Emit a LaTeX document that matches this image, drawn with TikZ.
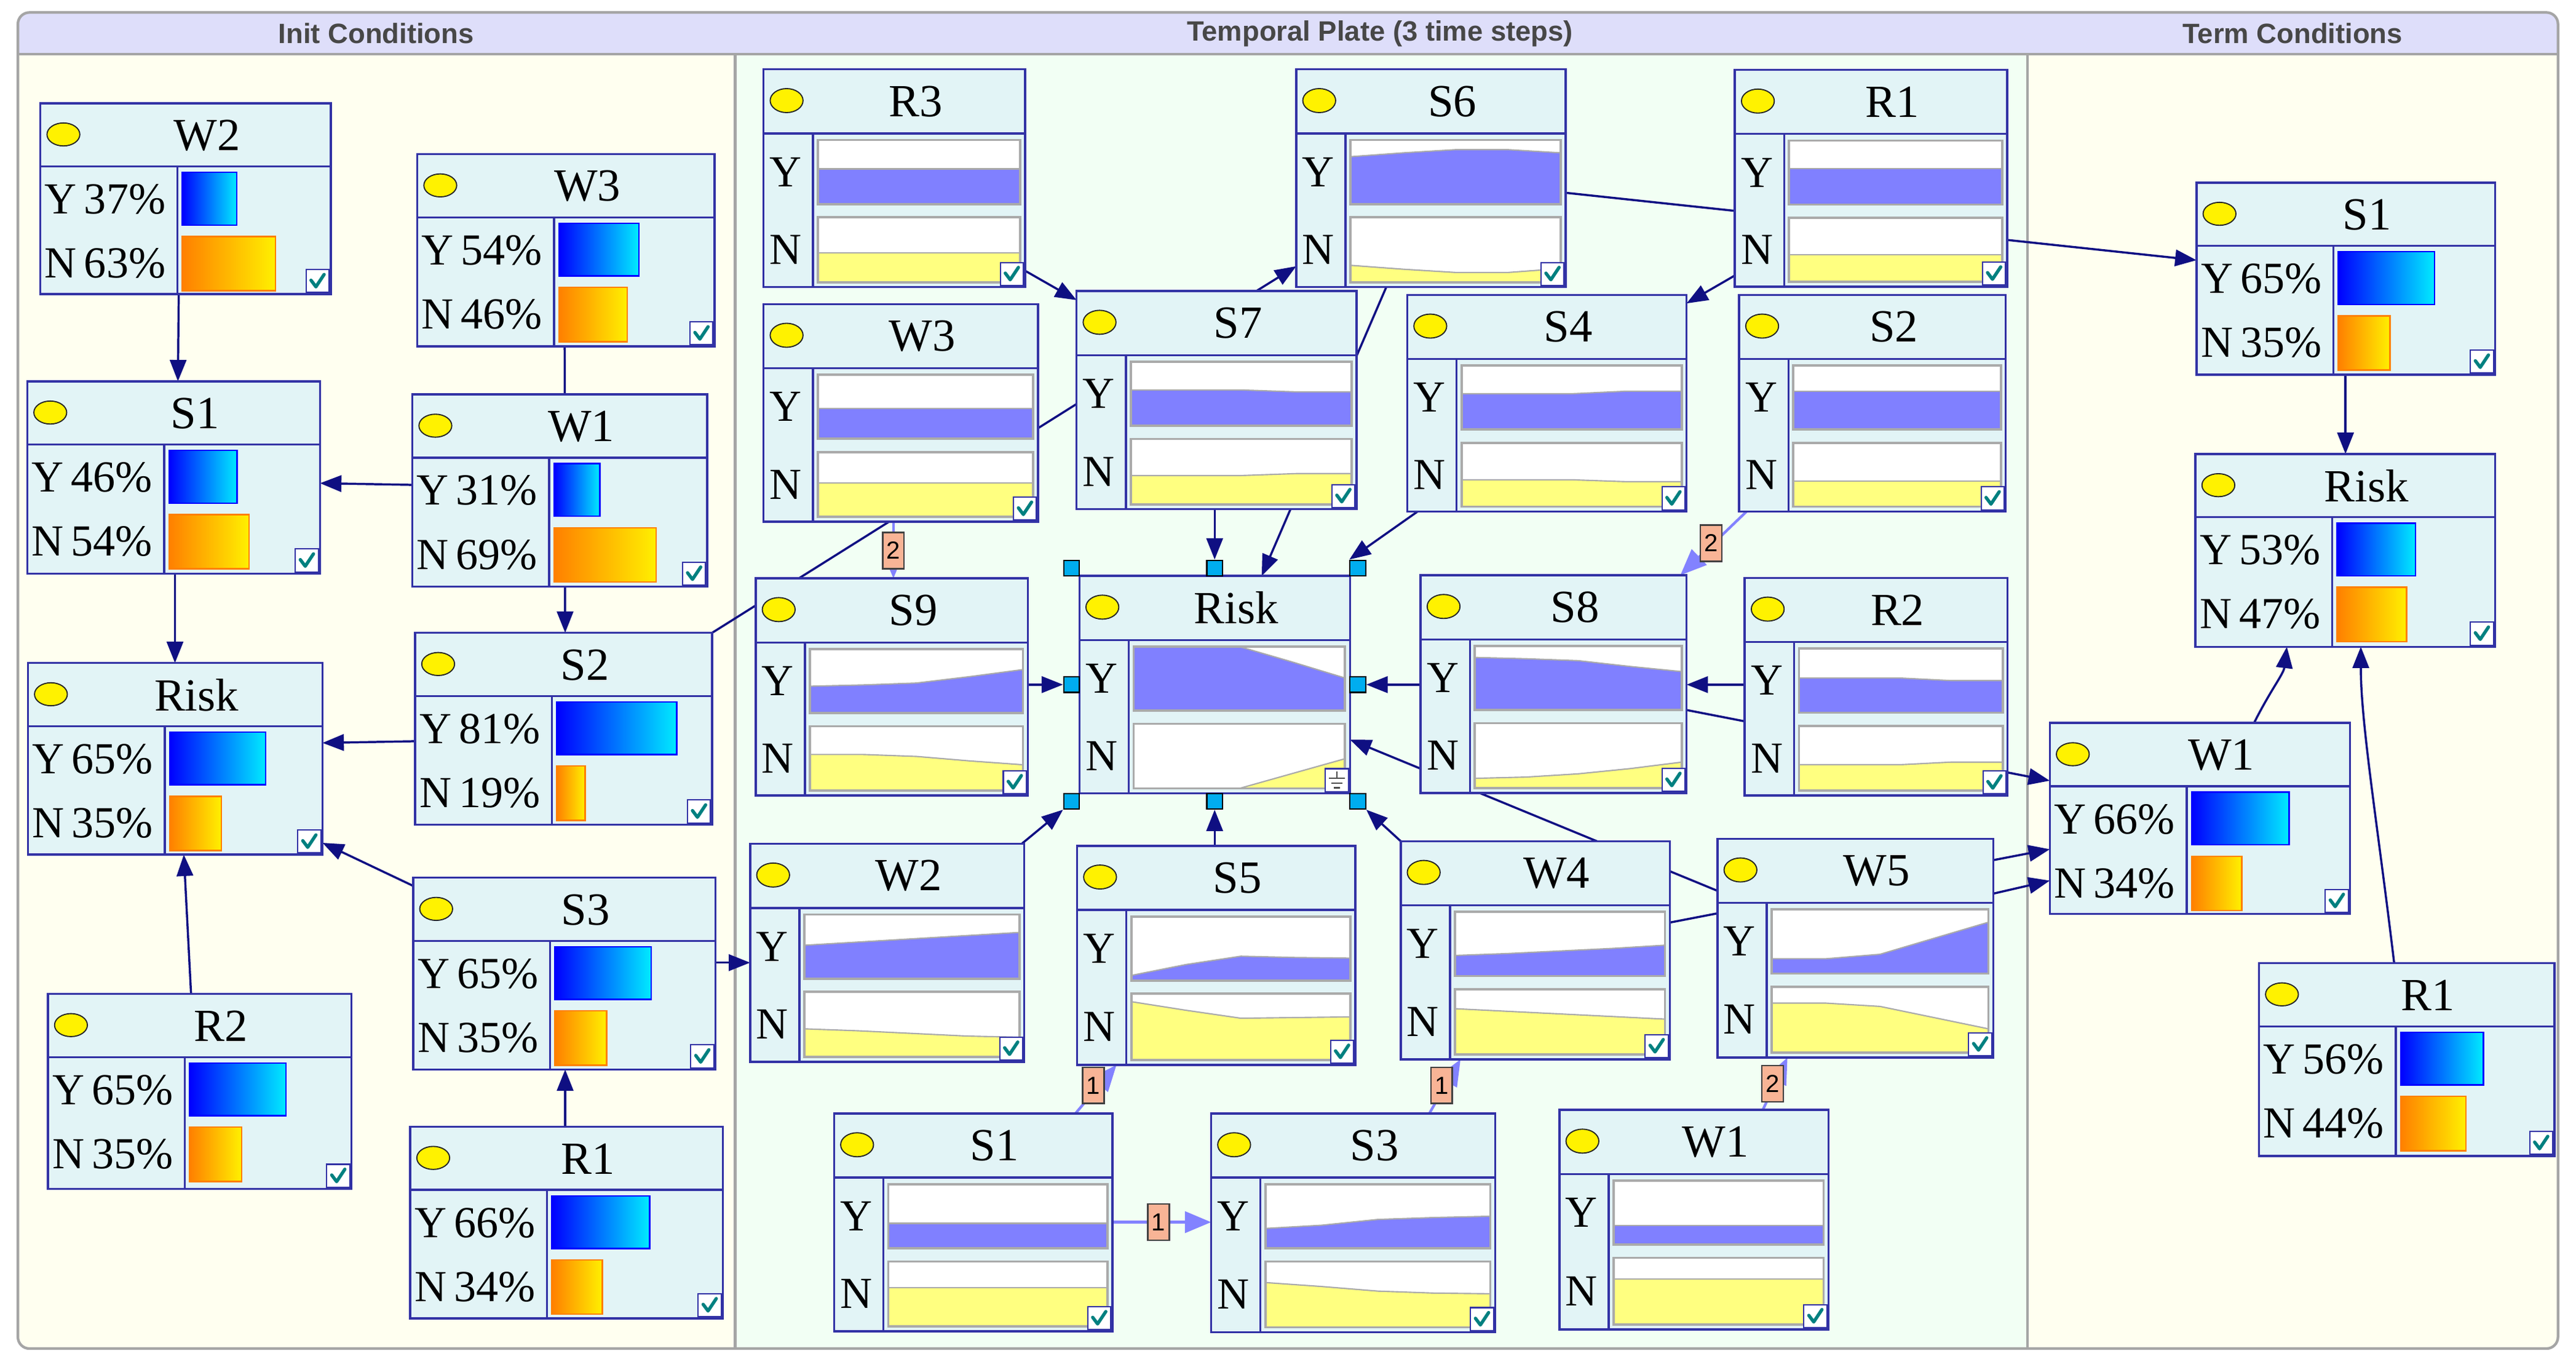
\documentclass[tikz,border=0pt]{standalone}
\usepackage{fontspec}
\setmainfont{Liberation Serif}
\newfontfamily\hsans{Liberation Sans}
\usetikzlibrary{arrows.meta}
\pgfdeclarelayer{bg}\pgfdeclarelayer{edges}
\pgfsetlayers{bg,edges,main}
\definecolor{nodefill}{RGB}{226,244,246}
\definecolor{nodeline}{RGB}{50,50,165}
\definecolor{edgecol}{RGB}{15,15,130}
\definecolor{tarc}{RGB}{130,130,255}
\definecolor{hdrcol}{RGB}{222,222,250}
\definecolor{initbg}{RGB}{255,255,240}
\definecolor{tempbg}{RGB}{242,255,244}
\definecolor{framec}{RGB}{165,165,165}
\definecolor{purp}{RGB}{128,128,255}
\definecolor{yel}{RGB}{255,255,128}
\definecolor{chartgray}{RGB}{170,170,170}
\definecolor{chkcol}{RGB}{0,128,128}
\definecolor{lblfill}{RGB}{248,180,150}
\definecolor{blL}{RGB}{0,0,255}
\definecolor{blR}{RGB}{0,235,255}
\definecolor{orL}{RGB}{255,128,0}
\definecolor{orR}{RGB}{255,240,0}
\tikzset{
 nbox/.style={rectangle, draw=nodeline, fill=nodefill, line width=1.3pt, inner sep=0pt, outer sep=0pt},
 nline/.style={draw=nodeline, line width=1.3pt},
 dot/.style={fill=yellow, draw=black!85, line width=0.7pt},
 ttl/.style={font=\fontsize{28}{30}\selectfont, inner sep=0pt},
 pct/.style={font=\fontsize{27}{29}\selectfont, inner sep=0pt, anchor=west},
 yn/.style={font=\fontsize{27}{29}\selectfont, inner sep=0pt},
 ybar/.style={draw=blL, line width=0.9pt, left color=blL, right color=blR},
 nbar/.style={draw=orL, line width=0.9pt, left color=orL, right color=orR},
 chartb/.style={draw=chartgray, line width=1.4pt},
 hdl/.style={rectangle, draw=black, fill=cyan, minimum size=9.5pt, inner sep=0pt, line width=0.8pt},
 lnk/.style={draw=edgecol, line width=1.3pt, -{Triangle[length=13pt,width=10pt]}},
 plainlnk/.style={draw=edgecol, line width=1.3pt},
 tlnk/.style={draw=tarc, line width=1.6pt, -{Triangle[length=16pt,width=13pt]}},
 lbl/.style={rectangle, draw=black!75, fill=lblfill, minimum width=13pt, minimum height=22pt, inner sep=0pt, line width=0.9pt, font=\hsans\fontsize{15}{16}\selectfont},
 hdrtxt/.style={text=black!72, inner sep=0pt, font=\hsans\bfseries\fontsize{17}{19}\selectfont}
}
\def\getY#1,#2,#3,#4,#5\endget{\def\pYa{#1}\def\pYb{#2}\def\pYc{#3}\def\pYd{#4}\def\pYe{#5}}
\def\getN#1,#2,#3,#4,#5\endget{\def\pNa{#1}\def\pNb{#2}\def\pNc{#3}\def\pNd{#4}\def\pNe{#5}}
\newcommand\chk[2]{%
 \draw[nline, fill=white, line width=0.8pt] ({#1-15},{#2-15}) rectangle ({#1-1},{#2-1});
 \draw[chkcol, line width=2pt, line cap=round, line join=round] ({#1-12},{#2-8.5}) -- ({#1-9},{#2-4.5}) -- ({#1-4},{#2-12});
}
\newcommand\statnode[8]{%
 \pgfmathsetmacro\zW{#4-#2}\pgfmathsetmacro\zH{#5-#3}%
 \pgfmathsetmacro\zX{(#2+#4)/2}\pgfmathsetmacro\zY{(#3+#5)/2}%
 \pgfmathsetmacro\zHB{#3+38.5}\pgfmathsetmacro\zDV{#2+83.3}%
 \node[nbox, minimum width=\zW pt, minimum height=\zH pt] (#1) at (\zX,\zY) {};
 \draw[nline] (#2,\zHB) -- (#4,\zHB);
 \draw[nline] (\zDV,\zHB) -- (\zDV,#5);
 \draw[dot] (#2+14,#3+19) ellipse [x radius=10pt, y radius=7pt];
 \node[ttl] at (\zX+13,#3+19.5) {#6};
 \draw[ybar] (\zDV+3,\zHB+3.6) rectangle ++({#7*0.9},32);
 \draw[nbar] (\zDV+3,\zHB+42.6) rectangle ++({#8*0.9},33);
 \node[pct] at (#2+2.5,\zHB+20) {Y\,#7\%};
 \node[pct] at (#2+2.5,\zHB+59) {N\,#8\%};
 \chk{#4}{#5}
}
\newcommand\tempnode[8]{%
 \getY#7\endget \getN#8\endget
 \pgfmathsetmacro\zW{#4-#2}\pgfmathsetmacro\zH{#5-#3}%
 \pgfmathsetmacro\zX{(#2+#4)/2}\pgfmathsetmacro\zY{(#3+#5)/2}%
 \pgfmathsetmacro\zHB{#3+39}\pgfmathsetmacro\zDV{#2+30}%
 \pgfmathsetmacro\zCa{#2+33}\pgfmathsetmacro\zCe{#4-3}\pgfmathsetmacro\zCw{(\zCe-\zCa)/4}%
 \pgfmathsetmacro\zYt{\zHB+4}\pgfmathsetmacro\zYb{\zHB+43}%
 \pgfmathsetmacro\zNt{\zHB+51}\pgfmathsetmacro\zNb{#5-3}\pgfmathsetmacro\zNh{\zNb-\zNt}%
 \node[nbox, minimum width=\zW pt, minimum height=\zH pt] (#1) at (\zX,\zY) {};
 \draw[nline] (#2,\zHB) -- (#4,\zHB);
 \draw[nline] (\zDV,\zHB) -- (\zDV,#5);
 \draw[dot] (#2+14,#3+19) ellipse [x radius=10pt, y radius=7.3pt];
 \node[ttl] at (\zX+13,#3+19.5) {#6};
 \node[yn] at (#2+13.5,{(\zYt+\zYb)/2}) {Y};
 \node[yn] at (#2+13.5,{(\zNt+\zNb)/2}) {N};
 \fill[white] (\zCa,\zYt) rectangle (\zCe,\zYb);
 \fill[purp] (\zCa,\zYb) -- (\zCa,{\zYb-\pYa*39}) -- ({\zCa+\zCw},{\zYb-\pYb*39}) -- ({\zCa+2*\zCw},{\zYb-\pYc*39}) -- ({\zCa+3*\zCw},{\zYb-\pYd*39}) -- (\zCe,{\zYb-\pYe*39}) -- (\zCe,\zYb) -- cycle;
 \draw[chartgray, line width=0.8pt] (\zCa,{\zYb-\pYa*39}) -- ({\zCa+\zCw},{\zYb-\pYb*39}) -- ({\zCa+2*\zCw},{\zYb-\pYc*39}) -- ({\zCa+3*\zCw},{\zYb-\pYd*39}) -- (\zCe,{\zYb-\pYe*39});
 \draw[chartb] (\zCa,\zYt) rectangle (\zCe,\zYb);
 \fill[white] (\zCa,\zNt) rectangle (\zCe,\zNb);
 \fill[yel] (\zCa,\zNb) -- (\zCa,{\zNb-\pNa*\zNh}) -- ({\zCa+\zCw},{\zNb-\pNb*\zNh}) -- ({\zCa+2*\zCw},{\zNb-\pNc*\zNh}) -- ({\zCa+3*\zCw},{\zNb-\pNd*\zNh}) -- (\zCe,{\zNb-\pNe*\zNh}) -- (\zCe,\zNb) -- cycle;
 \draw[chartgray, line width=0.8pt] (\zCa,{\zNb-\pNa*\zNh}) -- ({\zCa+\zCw},{\zNb-\pNb*\zNh}) -- ({\zCa+2*\zCw},{\zNb-\pNc*\zNh}) -- ({\zCa+3*\zCw},{\zNb-\pNd*\zNh}) -- (\zCe,{\zNb-\pNe*\zNh});
 \draw[chartb] (\zCa,\zNt) rectangle (\zCe,\zNb);
 \chk{#4}{#5}
}
\begin{document}
\begin{tikzpicture}[x=1pt,y=-1pt]
\useasboundingbox (0,0) rectangle (1568,831.6);
\begin{pgfonlayer}{bg}
\fill[white] (0,0) rectangle (1568,831.6);
\begin{scope}
\clip[rounded corners=7pt] (10.9,7.6) rectangle (1557,820.5);
\fill[initbg] (10.9,7.6) rectangle (447.5,820.5);
\fill[tempbg] (447.5,7.6) rectangle (1234,820.5);
\fill[initbg] (1234,7.6) rectangle (1557,820.5);
\fill[hdrcol] (10.9,7.6) rectangle (1557,33);
\end{scope}
\draw[framec, line width=1.6pt] (10.9,33) -- (1557,33);
\draw[framec, line width=1.6pt] (447.5,33) -- (447.5,820.5);
\draw[framec, line width=1.6pt] (1234,33) -- (1234,820.5);
\draw[framec, line width=1.6pt, rounded corners=7pt] (10.9,7.6) rectangle (1557,820.5);
\end{pgfonlayer}
\node[hdrtxt] (hInit) at (229,20.5) {Init Conditions};
\node[hdrtxt] (hTemp) at (840,20.5) {Temporal Plate (3 time steps)};
\node[hdrtxt] (hTerm) at (1395.5,20.5) {Term Conditions};
% init
\statnode{iW2}{24.6}{62.8}{201.3}{179}{W2}{37}{63}
\statnode{iW3}{254}{93.8}{435}{210.8}{W3}{54}{46}
\statnode{iS1}{16.6}{232}{194.8}{349}{S1}{46}{54}
\statnode{iW1}{251}{240}{430.5}{357}{W1}{31}{69}
\statnode{iS2}{252.7}{385}{433.5}{501.7}{S2}{81}{19}
\statnode{iRisk}{17}{403.4}{196.3}{520}{Risk}{65}{35}
\statnode{iS3}{251.5}{534}{435.5}{650.7}{S3}{65}{35}
\statnode{iR2}{29.2}{604.7}{213.9}{723.4}{R2}{65}{35}
\statnode{iR1}{249.7}{685.5}{440}{802.1}{R1}{66}{34}
% term
\statnode{tS1}{1337}{111.1}{1518.7}{228}{S1}{65}{35}
\statnode{tRisk}{1336.3}{276.2}{1518.7}{393.5}{Risk}{53}{47}
\statnode{tW1}{1247.7}{439.9}{1430.4}{556.1}{W1}{66}{34}
\statnode{tR1}{1375}{586}{1554.8}{703.4}{R1}{56}{44}
% temporal
\tempnode{R3}{464.8}{42.2}{623.9}{174.7}{R3}{.55,.55,.55,.55,.55}{.45,.45,.45,.45,.45}
\tempnode{S6}{789}{42.2}{953}{174.7}{S6}{.74,.8,.85,.85,.8}{.26,.2,.15,.15,.21}
\tempnode{R1p}{1056}{42.5}{1221.8}{174.4}{R1}{.56,.56,.56,.56,.56}{.42,.42,.42,.42,.42}
\tempnode{W3p}{464.8}{185}{631.9}{317.5}{W3}{.47,.47,.47,.47,.47}{.52,.52,.52,.52,.52}
\tempnode{S7}{655.3}{177.1}{825.7}{309.8}{S7}{.56,.56,.56,.53,.53}{.44,.44,.44,.47,.47}
\tempnode{S4}{856.6}{179.4}{1026.6}{311.2}{S4}{.56,.56,.56,.6,.6}{.42,.42,.42,.39,.39}
\tempnode{S2p}{1058.6}{179.4}{1220.9}{311.2}{S2}{.6,.6,.6,.6,.6}{.4,.4,.4,.4,.4}
\tempnode{S9}{460}{351.9}{625.7}{483.9}{S9}{.42,.44,.47,.57,.68}{.56,.56,.53,.46,.4}
\tempnode{Risk}{657}{350.4}{821.7}{482.7}{Risk}{1,1,1,.76,.51}{0,0,0,.23,.46}
\tempnode{S8}{864.7}{350}{1026.6}{482.5}{S8}{.82,.8,.77,.68,.6}{.15,.17,.22,.3,.4}
\tempnode{R2p}{1062}{351.6}{1222}{484}{R2}{.54,.54,.54,.5,.5}{.4,.4,.4,.44,.44}
\tempnode{W2p}{456.6}{513.4}{623.5}{646}{W2}{.52,.57,.62,.67,.72}{.43,.4,.36,.32,.3}
\tempnode{S5}{655.6}{514.6}{824.9}{647.9}{S5}{.08,.25,.38,.36,.35}{.88,.75,.63,.64,.65}
\tempnode{W4}{852.6}{511.8}{1016.4}{644.5}{W4}{.32,.35,.39,.43,.48}{.7,.66,.62,.58,.54}
\tempnode{W5}{1045.4}{510.3}{1213.3}{643.4}{W5}{.23,.23,.3,.55,.8}{.75,.75,.7,.53,.36}
\tempnode{S1p}{507.7}{677.5}{677.1}{810}{S1}{.39,.39,.39,.39,.39}{.6,.6,.6,.6,.6}
\tempnode{S3p}{737.2}{677.5}{910.1}{810.6}{S3}{.31,.36,.45,.48,.5}{.68,.62,.55,.52,.51}
\tempnode{W1p}{949.2}{675.3}{1113}{808.8}{W1}{.3,.3,.3,.3,.3}{.68,.68,.68,.68,.68}
% ground icon on temporal Risk
\draw[nline, fill=white, line width=0.8pt] (806.7,467.7) rectangle (820.7,481.7);
\draw[black!70, line width=0.9pt] (813.7,469.5) -- (813.7,473.5) (808.7,473.5) -- (818.7,473.5) (810.2,476.5) -- (817.2,476.5) (811.7,479.3) -- (815.7,479.3);
% handles
\node[hdl] (hTL) at ([shift={(-4.8pt,4.8pt)}]Risk.north west) {};
\node[hdl] (hT) at ([yshift=4.8pt]Risk.north) {};
\node[hdl] (hTR) at ([shift={(4.8pt,4.8pt)}]Risk.north east) {};
\node[hdl] (hL) at ([xshift=-4.8pt]Risk.west) {};
\node[hdl] (hR) at ([xshift=4.8pt]Risk.east) {};
\node[hdl] (hBL) at ([shift={(-4.8pt,-4.8pt)}]Risk.south west) {};
\node[hdl] (hB) at ([yshift=-4.8pt]Risk.south) {};
\node[hdl] (hBR) at ([shift={(4.8pt,-4.8pt)}]Risk.south east) {};
% labels
\node[lbl] (L1) at (543.8,335) {2};
\node[lbl] (L2) at (1041.5,330.5) {2};
\node[lbl] (L3) at (665.5,660.4) {1};
\node[lbl] (L4) at (877.5,660.4) {1};
\node[lbl] (L5) at (1079,659.3) {2};
\node[lbl] (L6) at (705.2,743.6) {1};
\begin{pgfonlayer}{edges}
\draw[lnk] (iW2.south -| 108.8,0) -- (iS1.north -| 108.3,0);
\draw[lnk] (iW1.west |- 0,295) -- (iS1.east |- 0,294);
\draw[lnk] (iW3.south -| 343.7,0) -- (iS2.north -| 344,0);
\draw[lnk] (iS1.south -| 106.5,0) -- (iRisk.north -| 106.5,0);
\draw[lnk] (iS2.west |- 0,451) -- (iRisk.east |- 0,452);
\draw[lnk] (iS3.west |- 0,539) -- (iRisk.east |- 0,512.8);
\draw[lnk] (iR2.north -| 116.3,0) -- (iRisk.south -| 111.9,0);
\draw[lnk] (iR1.north -| 344,0) -- (iS3.south -| 344,0);
\draw[lnk] (iS3.east |- 0,585.7) -- (W2p.west |- 0,585.7);
\draw[plainlnk] (S7.west |- 0,245.8) -- (iS2.north east);
\draw[lnk] (R3.east |- 0,164.7) -- (S7.west |- 0,182.6);
\draw[lnk] (S7.north -| 764.7,0) -- (S6.west |- 0,162);
\draw[lnk] (S6.south -| 843.8,0) -- (Risk.north -| 768,0);
\draw[lnk] (S7.south -| hT) -- (hT.north);
\draw[lnk] (S4.south -| 862.9,0) -- (hTR.north west);
\draw[lnk] (R1p.west |- 0,167.6) -- (S4.east |- 0,184.6);
\draw[lnk] (S6.east |- 0,117.3) -- (tS1.west |- 0,158.3);
\draw[tlnk] (W3p.south -| 543.8,0) -- (S9.north -| 543.8,0);
\draw[tlnk] (S2p.south -| 1063.1,0) -- (S8.north -| 1022.8,0);
\draw[lnk] (S9.east |- hL) -- (hL.west);
\draw[lnk] (S8.west |- hR) -- (hR.east);
\draw[lnk] (R2p.west |- hR) -- (S8.east |- hR);
\draw[lnk] (S8.center) -- (tW1.west |- 0,475);
\draw[lnk] (W2p.north -| 621.9,0) -- (hBL.south west);
\draw[lnk] (S5.north -| hB) -- (hB.south);
\draw[lnk] (W4.north west) -- (hBR.south east);
\draw[lnk] (W5.west |- 0,542) -- (Risk.east |- 0,450);
\draw[lnk] (W4.east |- 0,561.3) -- (tW1.west |- 0,516.7);
\draw[lnk] (W5.east |- 0,543.7) -- (tW1.west |- 0,535.8);
\draw[tlnk] (S1p.north -| 654.6,0) -- (S5.south -| 679.6,0);
\draw[tlnk] (S3p.north -| 870,0) -- (W4.south -| 889,0);
\draw[tlnk] (W1p.north -| 1073,0) -- (W5.south -| 1088,0);
\draw[tlnk] (S1p.east |- 0,743.6) -- (S3p.west |- 0,743.6);
\draw[lnk] (tS1.south -| 1427.7,0) -- (tRisk.north -| 1427.7,0);
\draw[lnk] (tW1.north -| 1372,0) .. controls (1382,420) and (1390,410) .. (tRisk.south -| 1392,0);
\draw[lnk] (tR1.north -| 1457.3,0) .. controls (1447,500) and (1437,440) .. (tRisk.south -| 1437,0);
\end{pgfonlayer}
\end{tikzpicture}
\end{document}
